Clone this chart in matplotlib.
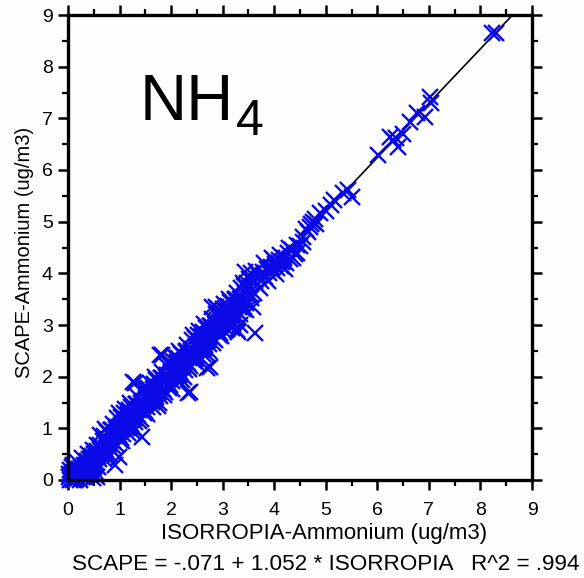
import matplotlib
matplotlib.use("Agg")
import matplotlib.pyplot as plt
import numpy as np

# ---- data ----
isorropia_x = [
    # near origin
    0.02, 0.03, 0.05, 0.06, 0.08, 0.09, 0.10, 0.11, 0.12, 0.14, 0.15, 0.16, 0.18, 0.19, 0.20,
    0.21, 0.22, 0.24, 0.25, 0.26, 0.27, 0.29, 0.30, 0.31, 0.32, 0.34, 0.35, 0.36, 0.37, 0.39,
    0.40, 0.41, 0.42, 0.44, 0.45, 0.46, 0.47, 0.49, 0.50, 0.51, 0.53, 0.55, 0.56, 0.58, 0.60,
    0.04, 0.07, 0.10, 0.13, 0.17, 0.23, 0.28, 0.33, 0.38, 0.43, 0.48, 0.52, 0.57, 0.59, 0.01,
    0.35, 0.45, 0.25, 0.15, 0.55,
    # main band
    0.62, 0.66, 0.70, 0.74, 0.78, 0.82, 0.86, 0.90, 0.94, 0.98, 1.02, 1.06, 1.10, 1.14, 1.18,
    1.22, 1.26, 1.30, 1.34, 1.38, 1.42, 1.46, 1.50, 1.54, 1.58, 1.62, 1.66, 1.70, 1.74, 1.78,
    1.82, 1.86, 1.90, 1.94, 1.98, 2.02, 2.06, 2.10, 2.14, 2.18, 2.22, 2.26, 2.30, 2.34, 2.38,
    2.42, 2.46, 2.50, 2.54, 2.58, 2.62, 2.66, 2.70, 2.74, 2.78, 2.82, 2.86, 2.90, 2.94, 2.98,
    3.02, 3.06, 3.10, 3.14, 3.18, 3.22, 3.26, 3.30, 3.34, 3.38, 3.42, 3.46, 3.50, 3.54, 3.58,
    0.64, 0.68, 0.72, 0.76, 0.80, 0.84, 0.88, 0.92, 0.96, 1.00, 1.04, 1.08, 1.12, 1.16, 1.20,
    1.24, 1.28, 1.32, 1.36, 1.40, 1.44, 1.48, 1.52, 1.56, 1.60, 1.64, 1.68, 1.72, 1.76, 1.80,
    1.84, 1.88, 1.92, 1.96, 2.00, 2.04, 2.08, 2.12, 2.16, 2.20, 2.24, 2.28, 2.32, 2.36, 2.40,
    2.44, 2.48, 2.52, 2.56, 2.60, 2.64, 2.68, 2.72, 2.76, 2.80, 2.84, 2.88, 2.92, 2.96, 3.00,
    3.04, 3.08, 3.12, 3.16, 3.20, 3.24, 3.28, 3.32, 3.36, 3.40, 3.44,
    0.63, 0.69, 0.75, 0.81, 0.87, 0.93, 0.99, 1.05, 1.11, 1.17, 1.23, 1.29, 1.35, 1.41, 1.47,
    1.53, 1.59, 1.65, 1.71, 1.77, 1.83, 1.89, 1.95, 2.01, 2.07, 2.13, 2.19, 2.25, 2.31, 2.37,
    2.43, 2.49, 2.55, 2.61, 2.67, 2.73, 2.79, 2.85, 2.91, 2.97, 3.03, 3.09, 3.15, 3.21, 3.27,
    3.33, 3.39, 3.45, 3.51,
    0.66, 0.72, 0.78, 0.84, 0.90, 0.96, 1.02, 1.08, 1.14, 1.20, 1.26, 1.32, 1.38, 1.44, 1.50,
    1.56, 1.62, 1.68, 1.74, 1.80, 1.86, 1.92, 1.98, 2.04, 2.10, 2.16, 2.22, 2.28, 2.34, 2.40,
    2.46, 2.52, 2.58, 2.64, 2.70, 2.76, 2.82, 2.88, 2.94, 3.00, 3.06, 3.12, 3.18, 3.24, 3.30,
    3.36, 3.42, 3.48, 3.54,
    # upper band
    3.62, 3.66, 3.70, 3.74, 3.78, 3.82, 3.86, 3.90, 3.94, 3.98, 4.02, 4.06, 4.10, 4.14, 4.18,
    4.22, 4.26, 4.30, 4.35, 4.40, 4.45, 4.50, 4.56, 4.62, 4.70, 4.76, 4.82, 4.89, 5.00, 5.11,
    5.15, 5.34, 5.44, 5.50,
    3.55, 3.65, 3.72, 3.80, 3.88, 3.96, 4.04, 4.12, 4.20, 4.28, 4.36, 4.44, 3.60, 4.00, 4.16,
    4.55, 4.66, 4.72, 4.80,
    # sparse top
    6.02, 6.24, 6.31, 6.37, 6.41, 6.50, 6.63, 6.76, 6.92, 7.02, 7.05, 8.22, 8.31,
    # outliers
    3.63, 3.59, 3.27, 3.34, 2.75, 2.33, 1.82, 1.30, 1.43, 0.91, 0.49, 2.79, 3.43, 0.98, 0.56,
    2.69, 2.37, 2.88, 3.30, 1.27, 1.78,
]
scape_y = [
    # near origin
    0.05, 0.00, 0.10, 0.02, 0.12, 0.04, 0.00, 0.15, 0.06, 0.10, 0.02, 0.18, 0.08, 0.14, 0.04,
    0.22, 0.12, 0.17, 0.08, 0.26, 0.14, 0.20, 0.10, 0.30, 0.18, 0.24, 0.14, 0.36, 0.22, 0.29,
    0.18, 0.40, 0.28, 0.33, 0.22, 0.46, 0.31, 0.38, 0.26, 0.50, 0.42, 0.34, 0.56, 0.46, 0.40,
    0.20, 0.25, 0.30, 0.00, 0.35, 0.00, 0.42, 0.05, 0.50, 0.10, 0.58, 0.18, 0.68, 0.25, 0.12,
    0.30, 0.40, 0.20, 0.12, 0.50,
    # main band
    0.68, 0.56, 0.85, 0.59, 0.78, 0.61, 0.97, 0.86, 0.99, 0.87, 1.22, 0.90, 1.19, 1.07, 1.35,
    1.09, 1.28, 1.12, 1.48, 1.36, 1.49, 1.38, 1.73, 1.41, 1.69, 1.57, 1.86, 1.60, 1.79, 1.62,
    1.98, 1.87, 2.00, 1.88, 2.23, 1.91, 2.20, 2.08, 2.36, 2.10, 2.29, 2.13, 2.49, 2.37, 2.50,
    2.39, 2.74, 2.42, 2.70, 2.58, 2.87, 2.61, 2.80, 2.63, 2.99, 2.88, 3.01, 2.89, 3.24, 2.92,
    3.21, 3.09, 3.37, 3.11, 3.30, 3.14, 3.50, 3.38, 3.51, 3.40, 3.75, 3.43, 3.71, 3.59, 3.88,
    0.57, 0.76, 0.53, 0.78, 0.69, 0.97, 0.75, 0.91, 1.03, 0.78, 1.08, 1.03, 1.08, 1.27, 1.03,
    1.28, 1.20, 1.48, 1.25, 1.41, 1.53, 1.29, 1.59, 1.53, 1.58, 1.77, 1.54, 1.79, 1.70, 1.98,
    1.76, 1.92, 2.04, 1.79, 2.09, 2.04, 2.09, 2.28, 2.04, 2.29, 2.21, 2.49, 2.26, 2.42, 2.54,
    2.30, 2.60, 2.54, 2.59, 2.78, 2.55, 2.80, 2.71, 2.99, 2.77, 2.93, 3.05, 2.80, 3.10, 3.05,
    3.10, 3.29, 3.05, 3.30, 3.22, 3.50, 3.27, 3.43, 3.55, 3.31, 3.61,
    0.87, 0.41, 0.92, 0.48, 1.09, 0.69, 1.29, 0.76, 1.38, 0.91, 1.42, 0.99, 1.60, 1.19, 1.80,
    1.27, 1.88, 1.42, 1.93, 1.49, 2.10, 1.70, 2.30, 1.77, 2.39, 1.92, 2.43, 2.00, 2.61, 2.20,
    2.81, 2.28, 2.89, 2.43, 2.94, 2.50, 3.11, 2.71, 3.31, 2.78, 3.40, 2.93, 3.44, 3.01, 3.62,
    3.21, 3.82, 3.29, 3.90,
    0.50, 0.99, 0.42, 0.96, 0.64, 1.20, 0.82, 1.29, 1.01, 1.49, 0.93, 1.47, 1.14, 1.70, 1.33,
    1.79, 1.51, 2.00, 1.43, 1.97, 1.65, 2.21, 1.83, 2.30, 2.02, 2.50, 1.93, 2.48, 2.15, 2.71,
    2.34, 2.80, 2.52, 3.01, 2.44, 2.98, 2.66, 3.22, 2.84, 3.31, 3.03, 3.51, 2.94, 3.49, 3.16,
    3.72, 3.35, 3.81, 3.53,
    # upper band
    3.85, 3.78, 3.95, 3.86, 4.02, 3.93, 4.08, 4.00, 4.12, 4.05, 4.18, 4.10, 4.25, 4.14, 4.30,
    4.20, 4.40, 4.28, 4.45, 4.38, 4.55, 4.52, 4.60, 4.86, 4.90, 5.00, 4.95, 5.16, 5.20, 5.32,
    5.42, 5.55, 5.61, 5.48,
    4.00, 4.05, 3.72, 4.20, 3.85, 4.30, 3.98, 4.35, 4.08, 4.50, 4.30, 4.40, 3.62, 4.25, 4.22,
    4.70, 4.80, 4.95, 5.05,
    # sparse top
    6.29, 6.64, 6.58, 6.61, 6.45, 6.70, 6.93, 7.10, 7.03, 7.42, 7.30, 8.65, 8.65,
    # outliers
    2.84, 3.35, 2.90, 3.00, 2.19, 1.68, 2.42, 1.87, 0.84, 0.29, 0.04, 3.35, 4.03, 0.45, 0.06,
    2.16, 1.71, 3.35, 2.87, 1.90, 2.42,
]
fit_intercept = -0.071
fit_slope = 1.052
axis_ticks = [0, 1, 2, 3, 4, 5, 6, 7, 8, 9]

x_label = "ISORROPIA-Ammonium (ug/m3)"
y_label = "SCAPE-Ammonium (ug/m3)"
fit_text = "SCAPE = -.071 + 1.052 * ISORROPIA   R^2 = .994"

# ---- figure ----
FONT = "Liberation Sans"
bg = "#fdfdfb"
fig = plt.figure(figsize=(5.84, 5.78), dpi=100, facecolor=bg)
ax = fig.add_axes([68 / 584, 98 / 578, 464 / 584, 465 / 578], facecolor=bg)

# regression line
x_end = (9 - fit_intercept) / fit_slope
line_x = np.array([0.0, x_end])
ax.plot(line_x, fit_intercept + fit_slope * line_x, color="black", lw=1.2, zorder=2)

ax.plot(isorropia_x, scape_y, linestyle="none", marker="x", ms=11, mew=1.7,
        color="#0a0ae8", zorder=3, clip_on=False)

ax.set_xlim(0, 9)
ax.set_ylim(0, 9)
ax.set_xticks(axis_ticks)
ax.set_yticks(axis_ticks)
ax.set_xticks(np.arange(0.5, 9, 1.0), minor=True)
ax.set_yticks(np.arange(0.5, 9, 1.0), minor=True)

for s in ax.spines.values():
    s.set_linewidth(2.4)
    s.set_zorder(5)

ax.tick_params(which="major", direction="out", length=7, width=1.8,
               top=True, right=True, labelsize=14, pad=4)
ax.tick_params(axis="x", which="major", pad=9)
ax.tick_params(which="minor", direction="out", length=4, width=1.6,
               top=True, right=True)
for lab in ax.get_xticklabels() + ax.get_yticklabels():
    lab.set_fontfamily(FONT)

fig.text(324 / 584, 1 - 533 / 578, x_label, ha="center", va="center",
         fontsize=16, family=FONT)
fig.text(25 / 584, 1 - 252 / 578, y_label, ha="center", va="center",
         rotation=90, fontsize=14.5, family=FONT)
fig.text(326 / 584, 1 - 565 / 578, fit_text, ha="center", va="center",
         fontsize=16.2, family=FONT)

fig.text(140 / 584, 1 - 120 / 578, "NH", ha="left", va="baseline",
         fontsize=47, family=FONT)
fig.text(236 / 584, 1 - 135 / 578, "4", ha="left", va="baseline",
         fontsize=36, family=FONT)

fig.savefig("out.png", dpi=100, facecolor=bg)
